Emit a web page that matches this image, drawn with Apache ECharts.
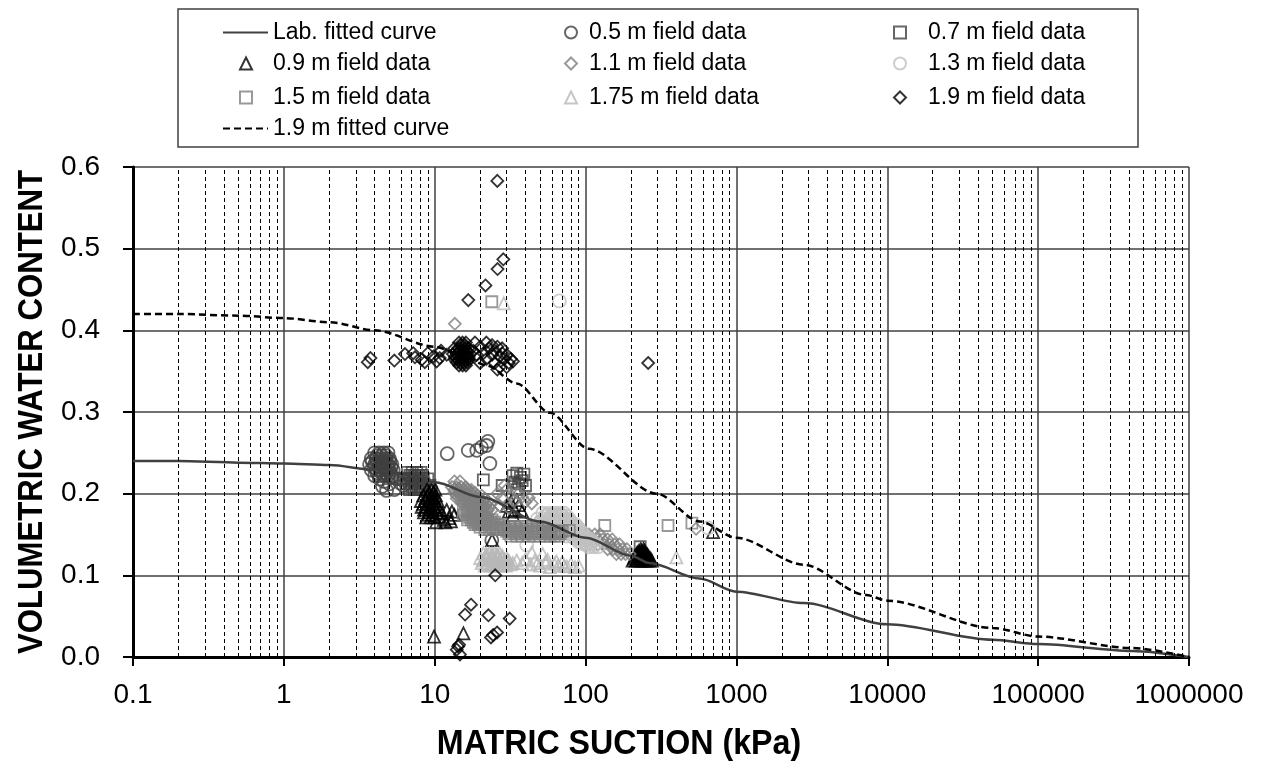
<!DOCTYPE html>
<html>
<head>
<meta charset="utf-8">
<script src="https://cdn.jsdelivr.net/npm/echarts@6/dist/echarts.min.js"></script>
<style>
  html, body { margin: 0; padding: 0; background: #fff; }
  #chart { width: 1263px; height: 769px; }
</style>
</head>
<body>
<div id="chart"></div>
<script>
// tick labels
const xTickLabels = ['0.1', '1', '10', '100', '1000', '10000', '100000', '1000000'];
const yTickLabels = ['0.0', '0.1', '0.2', '0.3', '0.4', '0.5', '0.6'];
const decades = [0.1, 1, 10, 100, 1000, 10000, 100000];
const minorSteps = [2, 3, 4, 5, 6, 7, 8, 9];

// [matric suction kPa, volumetric water content]
const labCurve = [[0.1, 0.240], [0.2, 0.240], [0.5, 0.238], [1, 0.237], [2, 0.235], [4, 0.229], [6, 0.224],
  [10, 0.214], [20, 0.196], [50, 0.166], [100, 0.146], [200, 0.124], [265, 0.115], [570, 0.096], [1000, 0.080],
  [2800, 0.066], [10000, 0.040], [50000, 0.021], [100000, 0.016], [420000, 0.0075], [1000000, 0]];

const fitted19 = [[0.1, 0.420], [0.2, 0.420], [0.5, 0.418], [1, 0.415], [2, 0.410], [4, 0.400], [10, 0.380],
  [15, 0.370], [22, 0.357], [35, 0.335], [58, 0.299], [105, 0.255], [296, 0.200], [570, 0.166], [1000, 0.146],
  [2800, 0.113], [7200, 0.076], [10000, 0.069], [50000, 0.0355], [100000, 0.025], [420000, 0.011], [1000000, 0]];

const field05 = [
  [4.0, 0.250], [4.3, 0.250], [4.6, 0.250], [4.9, 0.250],
  [4.15, 0.2465], [4.45, 0.2465], [4.75, 0.2465],
  [3.8, 0.243], [4.1, 0.243], [4.4, 0.243], [4.7, 0.243], [5.0, 0.243],
  [3.85, 0.2395], [4.15, 0.2395], [4.45, 0.2395], [4.75, 0.2395], [5.05, 0.2395],
  [3.7, 0.236], [4.0, 0.236], [4.3, 0.236], [4.6, 0.236], [4.9, 0.236], [5.2, 0.236],
  [3.95, 0.2325], [4.25, 0.2325], [4.55, 0.2325], [4.85, 0.2325], [5.15, 0.2325],
  [3.8, 0.229], [4.1, 0.229], [4.4, 0.229], [4.7, 0.229], [5.0, 0.229], [5.3, 0.229],
  [4.15, 0.2255], [4.45, 0.2255], [4.75, 0.2255], [5.05, 0.2255],
  [4.0, 0.222], [4.3, 0.222], [4.6, 0.222], [4.9, 0.222], [5.2, 0.222],
  [4.3, 0.218], [4.6, 0.215], [5.0, 0.212], [5.2, 0.220], [5.6, 0.218], [5.9, 0.213], [4.8, 0.204],
  [6.2, 0.210], [5.4, 0.205], [4.5, 0.209],
  [12.1, 0.249], [16.7, 0.253], [19.0, 0.253], [20.4, 0.257], [22.0, 0.259], [23.2, 0.237], [22.5, 0.264], [23.9, 0.143]];

const field07 = [
  [6.6, 0.226], [7.1, 0.226], [7.6, 0.226], [8.1, 0.226],
  [6.85, 0.2225], [7.35, 0.2225], [7.85, 0.2225], [8.3, 0.2225],
  [6.4, 0.219], [6.9, 0.219], [7.4, 0.219], [7.9, 0.219], [8.4, 0.219],
  [6.7, 0.2155], [7.2, 0.2155], [7.7, 0.2155], [8.2, 0.2155],
  [6.5, 0.212], [7.0, 0.212], [7.5, 0.212], [8.0, 0.212], [8.5, 0.212],
  [7.05, 0.2085], [7.55, 0.2085], [8.05, 0.2085],
  [6.8, 0.205], [7.3, 0.205], [7.8, 0.205], [8.3, 0.205],
  [9.0, 0.218], [9.3, 0.210], [9.5, 0.202], [6.2, 0.218],
  [21, 0.217], [28, 0.210], [33, 0.222], [35, 0.225], [37, 0.220], [39, 0.224], [34, 0.214], [36, 0.212],
  [38, 0.216], [40, 0.210], [35, 0.205], [230, 0.135]];

const field09 = [
  [8.9, 0.205], [9.5, 0.205], [10.1, 0.205],
  [9.2, 0.2015], [9.8, 0.2015],
  [8.4, 0.198], [9.0, 0.198], [9.6, 0.198], [10.2, 0.198],
  [8.7, 0.1945], [9.3, 0.1945], [9.9, 0.1945],
  [8.1, 0.191], [8.7, 0.191], [9.3, 0.191], [9.9, 0.191], [10.5, 0.191],
  [8.4, 0.1875], [9.0, 0.1875], [9.6, 0.1875], [10.2, 0.1875],
  [8.2, 0.184], [8.8, 0.184], [9.4, 0.184], [10.0, 0.184], [10.6, 0.184],
  [8.5, 0.1805], [9.1, 0.1805], [9.7, 0.1805], [10.3, 0.1805],
  [8.5, 0.177], [9.1, 0.177], [9.7, 0.177], [10.3, 0.177],
  [9.1, 0.174], [9.7, 0.174],
  [8.8, 0.171], [9.4, 0.171], [10.0, 0.171],
  [10.8, 0.172], [11.5, 0.168], [12.5, 0.170], [13.5, 0.174], [11.2, 0.176], [12.0, 0.180], [13.0, 0.178],
  [10.2, 0.165], [11.8, 0.165], [12.8, 0.166],
  [30, 0.185], [32, 0.190], [34, 0.180], [36, 0.186], [38, 0.178], [35, 0.192], [33, 0.174], [31, 0.178],
  [205, 0.118], [215, 0.118], [225, 0.118], [235, 0.118], [245, 0.118], [255, 0.118], [265, 0.118], [275, 0.118],
  [210, 0.1205], [220, 0.1205], [230, 0.1205], [240, 0.1205], [250, 0.1205], [260, 0.1205], [270, 0.1205],
  [212, 0.123], [222, 0.123], [232, 0.123], [242, 0.123], [252, 0.123], [262, 0.123],
  [217, 0.1255], [227, 0.1255], [237, 0.1255], [247, 0.1255], [257, 0.1255],
  [220, 0.128], [230, 0.128], [240, 0.128], [250, 0.128],
  [226, 0.130], [236, 0.130], [246, 0.130], [232, 0.132], [242, 0.132],
  [9.9, 0.025], [15.5, 0.029], [700, 0.153], [24, 0.143]];

const field11 = [
  [13.0, 0.208], [14.0, 0.208], [15.0, 0.208], [16.0, 0.208],
  [14.5, 0.206], [16.5, 0.206],
  [13.5, 0.2045], [14.5, 0.2045], [15.5, 0.2045], [16.5, 0.2045], [17.5, 0.2045],
  [13.5, 0.201], [14.5, 0.201], [15.5, 0.201], [16.5, 0.201], [17.5, 0.201], [18.5, 0.201],
  [14.5, 0.200], [15.5, 0.199], [16.5, 0.199],
  [14.0, 0.1975], [15.0, 0.1975], [16.0, 0.1975], [17.0, 0.1975], [18.0, 0.1975], [19.0, 0.1975], [20.5, 0.1975],
  [14.0, 0.194], [15.0, 0.194], [16.0, 0.194], [17.0, 0.194], [18.0, 0.194], [19.0, 0.194], [20.0, 0.194], [21.5, 0.194],
  [17.5, 0.192], [18.5, 0.192],
  [15.0, 0.1905], [16.0, 0.1905], [17.0, 0.1905], [18.0, 0.1905], [19.0, 0.1905], [20.0, 0.1905], [21.0, 0.1905], [22.5, 0.1905],
  [15.5, 0.187], [16.5, 0.187], [17.5, 0.187], [18.5, 0.187], [19.5, 0.187], [20.5, 0.187], [22.0, 0.187], [23.5, 0.187],
  [19.5, 0.185], [20.5, 0.185], [21.5, 0.185],
  [17.0, 0.1835], [18.5, 0.1835], [19.5, 0.1835], [20.5, 0.1835], [21.5, 0.1835], [23.0, 0.1835],
  [19.0, 0.182],
  [18.0, 0.180], [19.0, 0.180], [20.0, 0.180], [21.0, 0.180], [22.5, 0.180], [24.0, 0.180],
  [13.5, 0.215], [14.7, 0.215], [13.6, 0.408],
  [26, 0.200], [28, 0.195], [30, 0.205], [32, 0.198], [34, 0.192], [36, 0.200], [38, 0.196], [40, 0.190],
  [42, 0.195], [44, 0.188], [27, 0.185], [31, 0.182], [29, 0.210],
  [105, 0.150], [115, 0.150], [125, 0.150],
  [110, 0.144], [120, 0.144], [130, 0.144], [140, 0.144], [150, 0.144],
  [120, 0.138], [132, 0.138], [144, 0.138], [156, 0.138], [168, 0.138],
  [140, 0.132], [152, 0.132], [164, 0.132], [176, 0.132], [188, 0.132],
  [160, 0.126], [172, 0.126], [184, 0.126], [196, 0.126], [540, 0.157]];

const field13 = [
  [52, 0.176], [57, 0.176], [62, 0.176], [67, 0.176], [72, 0.176],
  [54.5, 0.174], [59.5, 0.174], [64.5, 0.174], [69.5, 0.174],
  [55, 0.1725], [60, 0.1725], [65, 0.1725], [70, 0.1725], [75, 0.1725],
  [48, 0.169], [53, 0.169], [58, 0.169], [63, 0.169], [68, 0.169], [73, 0.169], [78, 0.169],
  [51, 0.167], [56, 0.167], [61, 0.167], [66, 0.167], [71, 0.167], [76, 0.167],
  [50, 0.1655], [55, 0.1655], [60, 0.1655], [65, 0.1655], [70, 0.1655], [75, 0.1655], [80, 0.1655],
  [50, 0.162], [55, 0.162], [60, 0.162], [65, 0.162], [70, 0.162], [75, 0.162], [80, 0.162], [86, 0.162],
  [53, 0.160], [58, 0.160], [63, 0.160], [68, 0.160], [73, 0.160], [78, 0.160], [84, 0.160],
  [55, 0.1585], [61, 0.1585], [66, 0.1585], [71, 0.1585], [77, 0.1585], [83, 0.1585], [89, 0.1585],
  [58, 0.155], [63, 0.155], [68, 0.155], [74, 0.155], [80, 0.155], [86, 0.155], [92, 0.155],
  [66, 0.153], [71, 0.153], [77, 0.153], [83, 0.153], [89, 0.153],
  [72, 0.1515], [78, 0.1515], [84, 0.1515], [90, 0.1515], [96, 0.1515],
  [75, 0.148], [81, 0.148], [87, 0.148], [93, 0.148], [99, 0.148],
  [84, 0.146], [90, 0.146], [96, 0.146], [102, 0.146],
  [86, 0.1445], [93, 0.1445], [100, 0.1445], [107, 0.1445],
  [90, 0.141], [97, 0.141], [104, 0.141], [111, 0.141],
  [95, 0.139], [102, 0.139], [109, 0.139],
  [100, 0.138], [108, 0.138], [116, 0.138],
  [105, 0.135], [113, 0.135], [121, 0.135],
  [67, 0.436], [40.7, 0.137], [650, 0.158]];

const field15 = [
  [15.5, 0.180], [16.5, 0.180], [17.5, 0.180],
  [16, 0.177], [17, 0.177], [18, 0.177], [19, 0.177],
  [15.5, 0.174], [16.5, 0.174], [17.5, 0.174], [18.5, 0.174], [19.5, 0.174], [20.5, 0.174],
  [17, 0.171], [18, 0.171], [19, 0.171], [20, 0.171], [21, 0.171], [22, 0.171],
  [16.5, 0.168], [17.5, 0.168], [18.5, 0.168], [19.5, 0.168], [20.5, 0.168], [21.5, 0.168], [22.5, 0.168], [24, 0.168],
  [18, 0.165], [19, 0.165], [20, 0.165], [21, 0.165], [22, 0.165], [23.5, 0.165], [25, 0.165],
  [18.5, 0.162], [19.5, 0.162], [20.5, 0.162], [21.5, 0.162], [23, 0.162], [24.5, 0.162], [26, 0.162], [27.5, 0.162],
  [20, 0.159], [22, 0.159], [24, 0.159], [25.5, 0.159], [27, 0.159], [28.5, 0.159],
  [21.5, 0.156], [23, 0.156], [24.5, 0.156], [26, 0.156], [27.5, 0.156], [29, 0.156],
  [31, 0.160], [34, 0.160], [37, 0.160], [40, 0.160], [44, 0.160],
  [32, 0.157], [35, 0.157], [38, 0.157], [41, 0.157], [45, 0.157], [48, 0.157], [52, 0.157],
  [30, 0.154], [33, 0.154], [36, 0.154], [39, 0.154], [42, 0.154], [46, 0.154], [50, 0.154], [54, 0.154],
  [58, 0.154], [62, 0.154], [66, 0.154], [70, 0.154],
  [31, 0.151], [34, 0.151], [37, 0.151], [40, 0.151], [44, 0.151], [48, 0.151], [52, 0.151], [56, 0.151],
  [60, 0.151], [64, 0.151], [68, 0.151],
  [32, 0.148], [35, 0.148], [38, 0.148], [42, 0.148], [46, 0.148], [50, 0.148], [54, 0.148], [58, 0.148],
  [62, 0.148], [66, 0.148],
  [23.9, 0.435], [134, 0.161], [352, 0.161], [507, 0.164], [78, 0.155]];

const field175 = [
  [21, 0.127], [23, 0.127], [25, 0.127], [27, 0.127],
  [22, 0.1265], [24, 0.1265], [26, 0.1265],
  [22, 0.124], [24, 0.124], [26, 0.124], [28, 0.124],
  [20, 0.121], [22, 0.121], [24, 0.121], [26, 0.121], [28, 0.121], [30, 0.121],
  [21, 0.1195], [23, 0.1195], [25, 0.1195], [27, 0.1195], [29, 0.1195],
  [21, 0.118], [23, 0.118], [25, 0.118], [27, 0.118], [29, 0.118], [31, 0.118],
  [20.5, 0.115], [22.5, 0.115], [24.5, 0.115], [26.5, 0.115], [28.5, 0.115], [30.5, 0.115], [33, 0.115],
  [22, 0.1135], [24, 0.1135], [26, 0.1135], [28, 0.1135], [30, 0.1135], [32, 0.1135],
  [21.5, 0.112], [23.5, 0.112], [25.5, 0.112], [27.5, 0.112], [29.5, 0.112],
  [35, 0.118], [38, 0.115], [40, 0.120], [43, 0.113], [46, 0.118], [50, 0.112], [54, 0.116], [58, 0.110],
  [62, 0.114], [66, 0.112], [70, 0.116], [75, 0.111], [80, 0.114], [85, 0.110], [90, 0.112], [44, 0.128],
  [52, 0.126], [48, 0.115], [56, 0.119], [64, 0.117], [72, 0.112], [28.7, 0.433], [400, 0.122]];

const field19 = [
  [14.5, 0.385], [15.3, 0.385], [16.1, 0.385],
  [14.9, 0.3815], [15.7, 0.3815],
  [13.5, 0.378], [14.3, 0.378], [15.1, 0.378], [15.9, 0.378], [16.7, 0.378],
  [13.9, 0.3745], [14.7, 0.3745], [15.5, 0.3745], [16.3, 0.3745],
  [13.2, 0.371], [14.0, 0.371], [14.8, 0.371], [15.6, 0.371], [16.4, 0.371], [17.2, 0.371],
  [13.6, 0.3675], [14.4, 0.3675], [15.2, 0.3675], [16.0, 0.3675], [16.8, 0.3675],
  [13.6, 0.364], [14.4, 0.364], [15.2, 0.364], [16.0, 0.364], [16.8, 0.364],
  [14.0, 0.3605], [14.8, 0.3605], [15.6, 0.3605], [16.4, 0.3605],
  [14.5, 0.357], [15.3, 0.357], [16.1, 0.357],
  [18, 0.375], [19, 0.370], [20, 0.380], [21, 0.372], [22, 0.365], [23, 0.378], [24, 0.370], [25, 0.375],
  [26, 0.380], [27, 0.368], [28, 0.372], [29, 0.365], [30, 0.370], [31, 0.360], [32, 0.365], [25, 0.360],
  [27, 0.355], [30, 0.355], [22, 0.385], [24, 0.382], [28, 0.378], [20, 0.360], [18.5, 0.385], [26, 0.352],
  [33, 0.362], [3.6, 0.361], [3.75, 0.366], [5.4, 0.363], [6.35, 0.371], [7.2, 0.372], [7.4, 0.367],
  [8.2, 0.364], [8.6, 0.361], [9.8, 0.368], [10.8, 0.366], [12, 0.370], [11, 0.375], [9, 0.372], [10.3, 0.362],
  [16.7, 0.437], [21.7, 0.455], [26.1, 0.475], [28.5, 0.487], [26, 0.583], [260, 0.360],
  [25.2, 0.100], [17.4, 0.064], [15.9, 0.052], [22.7, 0.051], [31.4, 0.047], [24.4, 0.027], [23.6, 0.024],
  [25.9, 0.030], [14.3, 0.013], [14.0, 0.009], [14.7, 0.003], [14.5, 0.015]];

const font = '"Liberation Sans", Arial, sans-serif';

const minorGrid = [];
decades.forEach(d => minorSteps.forEach(m => minorGrid.push({ xAxis: d * m })));

function scatter(name, data, symbol, size, color) {
  return {
    name: name,
    type: 'scatter',
    data: data,
    symbol: symbol,
    symbolSize: size,
    itemStyle: { color: 'rgba(0,0,0,0)', borderColor: color, borderWidth: 1.8 },
    emphasis: { disabled: true }
  };
}

// one legend per entry so each icon keeps its own width
function legendItem(name, left, top, width, padLeft, isLine) {
  const item = {
    orient: 'horizontal',
    left: left,
    top: top,
    padding: 0,
    itemWidth: width,
    itemHeight: 12,
    selectedMode: false,
    data: [name],
    textStyle: { fontSize: 23, fontFamily: font, color: '#000', lineHeight: 22, padding: [0, 0, 0, padLeft] }
  };
  if (isLine) item.itemStyle = { opacity: 0 };
  return item;
}

const chart = echarts.init(document.getElementById('chart'));
chart.setOption({
  animation: false,
  backgroundColor: '#fff',
  grid: { left: 133, right: 74, top: 167, bottom: 112 },
  legend: [
    legendItem('Lab. fitted curve', 222, 21, 45, 0, true),
    legendItem('0.9 m field data', 239, 52, 12, 16),
    legendItem('1.5 m field data', 239, 86, 12, 16),
    legendItem('1.9 m fitted curve', 222, 117, 45, 0, true),
    legendItem('0.5 m field data', 564, 21, 12, 7),
    legendItem('1.1 m field data', 564, 52, 12, 7),
    legendItem('1.75 m field data', 564, 86, 12, 7),
    legendItem('0.7 m field data', 893, 21, 12, 17),
    legendItem('1.3 m field data', 893, 52, 12, 17),
    legendItem('1.9 m field data', 893, 86, 12, 17)
  ],
  graphic: [
    { type: 'rect', shape: { x: 178, y: 9, width: 960, height: 138 },
      style: { fill: 'none', stroke: '#404040', lineWidth: 1.5 }, z: -1 },
    { type: 'text', x: 619, y: 744, scaleX: 0.92,
      style: { text: 'MATRIC SUCTION (kPa)', fontSize: 35, fontWeight: 'bold', fontFamily: font,
        fill: '#000', align: 'center', verticalAlign: 'middle' } },
    { type: 'text', x: 32, y: 412, rotation: Math.PI / 2, scaleX: 0.89,
      style: { text: 'VOLUMETRIC WATER CONTENT', fontSize: 35, fontWeight: 'bold', fontFamily: font,
        fill: '#000', align: 'center', verticalAlign: 'middle' } }
  ],
  xAxis: {
    type: 'log',
    logBase: 10,
    min: 0.1,
    max: 1000000,
    splitNumber: 7,
    axisLine: { show: true, onZero: false, lineStyle: { color: '#000', width: 3 } },
    axisTick: { show: true, length: 9, lineStyle: { color: '#000', width: 2 } },
    axisLabel: { fontSize: 28, fontFamily: font, color: '#000', margin: 24,
      formatter: (v, i) => xTickLabels[i] },
    splitLine: { show: true, lineStyle: { color: '#404040', width: 1.5 } }
  },
  yAxis: {
    type: 'value',
    min: 0,
    max: 0.6,
    interval: 0.1,
    axisLine: { show: true, lineStyle: { color: '#000', width: 3 } },
    axisTick: { show: true, length: 10, lineStyle: { color: '#000', width: 2 } },
    axisLabel: { fontSize: 28, fontFamily: font, color: '#000', margin: 33,
      formatter: (v, i) => yTickLabels[i] },
    splitLine: { show: true, lineStyle: { color: '#404040', width: 1.5 } }
  },
  series: [
    {
      name: 'minor grid',
      type: 'line',
      data: [],
      z: 1,
      markLine: {
        silent: true,
        symbol: ['none', 'none'],
        label: { show: false },
        lineStyle: { color: '#000', width: 1, type: [4, 3] },
        data: minorGrid
      }
    },
    {
      name: 'Lab. fitted curve',
      type: 'line',
      data: labCurve,
      symbol: 'none',
      smooth: 0.3,
      smoothMonotone: 'x',
      lineStyle: { color: '#404040', width: 2.5 },
      itemStyle: { color: '#404040' }
    },
    scatter('0.5 m field data', field05, 'circle', 13, '#404040'),
    scatter('0.7 m field data', field07, 'rect', 11, '#404040'),
    scatter('0.9 m field data', field09, 'triangle', 12, '#000'),
    scatter('1.1 m field data', field11, 'diamond', 12, '#808080'),
    scatter('1.3 m field data', field13, 'circle', 13, '#c0c0c0'),
    scatter('1.5 m field data', field15, 'rect', 11, '#808080'),
    scatter('1.75 m field data', field175, 'triangle', 12, '#b8b8b8'),
    scatter('1.9 m field data', field19, 'diamond', 12, '#000'),
    {
      name: '1.9 m fitted curve',
      type: 'line',
      data: fitted19,
      symbol: 'none',
      smooth: 0.3,
      smoothMonotone: 'x',
      lineStyle: { color: '#000', width: 2.5, type: [7, 4] },
      itemStyle: { color: '#000' }
    }
  ]
});
</script>
</body>
</html>
